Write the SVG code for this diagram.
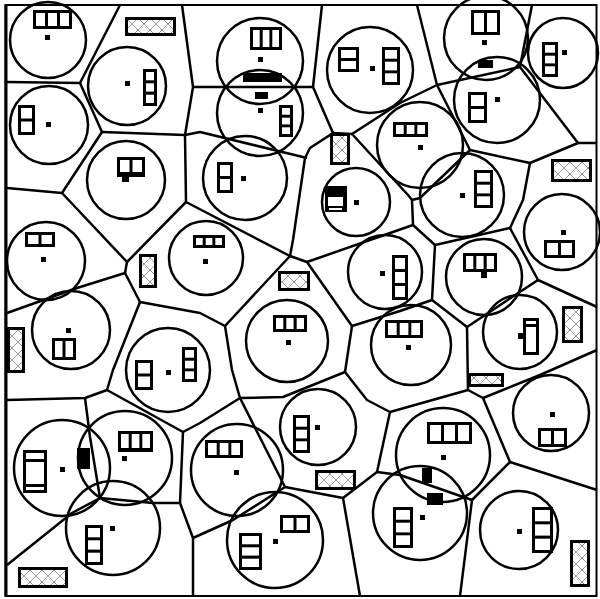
<svg xmlns="http://www.w3.org/2000/svg" width="600" height="599" viewBox="0 0 600 599">
<defs>
<pattern id="xx" width="12" height="12" patternUnits="userSpaceOnUse">
<rect width="12" height="12" fill="#fff"/>
<path d="M0 0L12 12M12 0L0 12" stroke="#999" stroke-width="1" fill="none"/>
</pattern>
<style>
.c{fill:none;stroke:#000;stroke-width:2.5}
.e{fill:none;stroke:#000;stroke-width:2.5;stroke-linejoin:round}
.b{fill:#000}
.w{fill:#fff}
.hi{fill:url(#xx)}
</style>
</defs>
<rect width="600" height="599" fill="#fff"/>
<g id="edges">
<polyline class="e" points="120,5 80,83"/>
<polyline class="e" points="7,82 80,83"/>
<polyline class="e" points="80,83 102,132"/>
<polyline class="e" points="182,5 193,87 185,135"/>
<polyline class="e" points="102,132 185,135"/>
<polyline class="e" points="185,135 200,132 307,158"/>
<polyline class="e" points="185,135 186,202"/>
<polyline class="e" points="102,132 62,193"/>
<polyline class="e" points="7,188 62,193"/>
<polyline class="e" points="62,193 127,262"/>
<polyline class="e" points="186,202 127,262"/>
<polyline class="e" points="127,262 125,273 77,288 7,313"/>
<polyline class="e" points="125,273 140,302"/>
<polyline class="e" points="140,302 200,313 225,326"/>
<polyline class="e" points="140,302 113,370 107,390"/>
<polyline class="e" points="7,400 85,398 107,390"/>
<polyline class="e" points="107,390 183,432"/>
<polyline class="e" points="85,398 90,437 100,498"/>
<polyline class="e" points="7,565 72,513 100,498 153,503 180,503"/>
<polyline class="e" points="180,503 183,432 200,423 240,398"/>
<polyline class="e" points="180,503 193,538 193,596"/>
<polyline class="e" points="193,538 233,520 285,487"/>
<polyline class="e" points="240,398 285,487"/>
<polyline class="e" points="225,326 232,370 240,398"/>
<polyline class="e" points="240,398 283,397 345,372"/>
<polyline class="e" points="186,202 290,256"/>
<polyline class="e" points="193,87 313,87"/>
<polyline class="e" points="322,5 313,87"/>
<polyline class="e" points="313,87 333,133"/>
<polyline class="e" points="305,158 310,148 333,133"/>
<polyline class="e" points="333,133 352,134"/>
<polyline class="e" points="305,158 293,240 290,256"/>
<polyline class="e" points="290,256 225,326"/>
<polyline class="e" points="290,256 307,262 352,326"/>
<polyline class="e" points="307,262 413,225"/>
<polyline class="e" points="352,134 400,103 437,85"/>
<polyline class="e" points="417,5 437,85"/>
<polyline class="e" points="437,85 520,67"/>
<polyline class="e" points="532,5 520,67"/>
<polyline class="e" points="520,67 578,143 597,143"/>
<polyline class="e" points="578,143 530,163"/>
<polyline class="e" points="437,85 470,150 530,163"/>
<polyline class="e" points="530,163 523,200 510,228"/>
<polyline class="e" points="352,134 408,195 412,200"/>
<polyline class="e" points="470,150 420,198 412,200"/>
<polyline class="e" points="412,200 413,225 435,245"/>
<polyline class="e" points="435,245 510,228"/>
<polyline class="e" points="510,228 538,280 597,307"/>
<polyline class="e" points="538,280 467,327"/>
<polyline class="e" points="435,245 432,300 467,327"/>
<polyline class="e" points="432,300 400,311 352,326"/>
<polyline class="e" points="352,326 345,372"/>
<polyline class="e" points="467,327 468,390"/>
<polyline class="e" points="345,372 367,400 390,412 468,390 483,398"/>
<polyline class="e" points="483,398 540,375 597,350"/>
<polyline class="e" points="483,398 510,462"/>
<polyline class="e" points="510,462 597,490"/>
<polyline class="e" points="510,462 472,500"/>
<polyline class="e" points="472,500 460,596"/>
<polyline class="e" points="472,500 400,475 377,472"/>
<polyline class="e" points="390,412 377,472"/>
<polyline class="e" points="377,472 343,498"/>
<polyline class="e" points="285,487 343,498"/>
<polyline class="e" points="343,498 360,596"/>
</g>
<g id="circles">
<circle class="c" cx="48" cy="40" r="38"/>
<circle class="c" cx="127" cy="86" r="39"/>
<circle class="c" cx="49" cy="125" r="39"/>
<circle class="c" cx="126" cy="180" r="39"/>
<circle class="c" cx="260" cy="61" r="43"/>
<circle class="c" cx="260" cy="113" r="43"/>
<circle class="c" cx="245" cy="178" r="42"/>
<circle class="c" cx="370" cy="70" r="43"/>
<circle class="c" cx="486" cy="38" r="42"/>
<circle class="c" cx="563" cy="53" r="35"/>
<circle class="c" cx="497" cy="100" r="43"/>
<circle class="c" cx="420" cy="145" r="43"/>
<circle class="c" cx="462" cy="195" r="42"/>
<circle class="c" cx="562" cy="232" r="38"/>
<circle class="c" cx="46" cy="261" r="39"/>
<circle class="c" cx="71" cy="330" r="39"/>
<circle class="c" cx="168" cy="370" r="42"/>
<circle class="c" cx="206" cy="258" r="37"/>
<circle class="c" cx="287" cy="341" r="41"/>
<circle class="c" cx="356" cy="202" r="34"/>
<circle class="c" cx="385" cy="272" r="37"/>
<circle class="c" cx="411" cy="345" r="40"/>
<circle class="c" cx="484" cy="277" r="38"/>
<circle class="c" cx="520" cy="332" r="37"/>
<circle class="c" cx="62" cy="468" r="48"/>
<circle class="c" cx="125" cy="458" r="47"/>
<circle class="c" cx="113" cy="528" r="47"/>
<circle class="c" cx="237" cy="470" r="46"/>
<circle class="c" cx="318" cy="427" r="38"/>
<circle class="c" cx="275" cy="540" r="48"/>
<circle class="c" cx="551" cy="413" r="38"/>
<circle class="c" cx="443" cy="455" r="47"/>
<circle class="c" cx="420" cy="513" r="47"/>
<circle class="c" cx="519" cy="530" r="39"/>
</g>
<g id="hatched">
<rect class="b" x="125" y="17" width="51" height="19"/><rect class="hi" x="128" y="20" width="45" height="13"/>
<rect class="b" x="330" y="133" width="20" height="32"/><rect class="hi" x="333" y="136" width="14" height="26"/>
<rect class="b" x="551" y="159" width="41" height="23"/><rect class="hi" x="554" y="162" width="35" height="17"/>
<rect class="b" x="7" y="327" width="18" height="46"/><rect class="hi" x="10" y="330" width="12" height="40"/>
<rect class="b" x="139" y="254" width="18" height="34"/><rect class="hi" x="142" y="257" width="12" height="28"/>
<rect class="b" x="278" y="271" width="32" height="20"/><rect class="hi" x="281" y="274" width="26" height="14"/>
<rect class="b" x="562" y="306" width="21" height="37"/><rect class="hi" x="565" y="309" width="15" height="31"/>
<rect class="b" x="468" y="373" width="36" height="14"/><rect class="hi" x="471" y="376" width="30" height="8"/>
<rect class="b" x="18" y="567" width="50" height="21"/><rect class="hi" x="21" y="570" width="44" height="15"/>
<rect class="b" x="315" y="470" width="41" height="20"/><rect class="hi" x="318" y="473" width="35" height="14"/>
<rect class="b" x="570" y="540" width="20" height="47"/><rect class="hi" x="573" y="543" width="14" height="41"/>
</g>
<g id="glyphs">
<g id="n1"><rect class="b" x="33" y="10" width="39" height="19"/><rect class="w" x="36" y="13" width="9" height="13"/><rect class="w" x="48" y="13" width="9" height="13"/><rect class="w" x="60" y="13" width="9" height="13"/><rect class="b" x="45" y="35" width="5" height="5"/></g>
<g id="n2"><rect class="b" x="143" y="69" width="14" height="37"/><rect class="w" x="146" y="72" width="8" height="8.3"/><rect class="w" x="146" y="83.3" width="8" height="8.3"/><rect class="w" x="146" y="94.7" width="8" height="8.3"/><rect class="b" x="125" y="81" width="5" height="5"/></g>
<g id="n3"><rect class="b" x="18" y="105" width="17" height="30"/><rect class="w" x="21" y="108" width="11" height="10.5"/><rect class="w" x="21" y="121.5" width="11" height="10.5"/><rect class="b" x="46" y="122" width="5" height="5"/></g>
<g id="n4"><rect class="b" x="117" y="157" width="28" height="20"/><rect class="w" x="120" y="160" width="9.5" height="12"/><rect class="w" x="132.5" y="160" width="9.5" height="12"/><rect class="b" x="122" y="176" width="7" height="6"/></g>
<g id="n5"><rect class="b" x="250" y="27" width="32" height="23"/><rect class="w" x="253" y="30" width="6.7" height="17"/><rect class="w" x="262.7" y="30" width="6.7" height="17"/><rect class="w" x="272.3" y="30" width="6.7" height="17"/><rect class="b" x="258" y="57" width="5" height="5"/><rect class="b" x="243" y="73" width="39" height="9"/></g>
<g id="n6"><rect class="b" x="255" y="92" width="13" height="7"/><rect class="b" x="258" y="108" width="5" height="5"/><rect class="b" x="279" y="105" width="14" height="32"/><rect class="w" x="282" y="108" width="8" height="6.7"/><rect class="w" x="282" y="117.7" width="8" height="6.7"/><rect class="w" x="282" y="127.3" width="8" height="6.7"/></g>
<g id="n7"><rect class="b" x="217" y="162" width="16" height="31"/><rect class="w" x="220" y="165" width="10" height="11"/><rect class="w" x="220" y="179" width="10" height="11"/><rect class="b" x="241" y="176" width="5" height="5"/></g>
<g id="n8"><rect class="b" x="338" y="47" width="21" height="25"/><rect class="w" x="341" y="50" width="15" height="8"/><rect class="w" x="341" y="61" width="15" height="8"/><rect class="b" x="370" y="66" width="5" height="5"/><rect class="b" x="382" y="47" width="18" height="38"/><rect class="w" x="385" y="50" width="12" height="8.7"/><rect class="w" x="385" y="61.7" width="12" height="8.7"/><rect class="w" x="385" y="73.3" width="12" height="8.7"/></g>
<g id="n10"><rect class="b" x="471" y="10" width="29" height="25"/><rect class="w" x="474" y="13" width="10" height="19"/><rect class="w" x="487" y="13" width="10" height="19"/><rect class="b" x="482" y="40" width="5" height="5"/></g>
<g id="n11"><rect class="b" x="542" y="42" width="16" height="35"/><rect class="w" x="545" y="45" width="10" height="7.7"/><rect class="w" x="545" y="55.7" width="10" height="7.7"/><rect class="w" x="545" y="66.3" width="10" height="7.7"/><rect class="b" x="562" y="50" width="5" height="5"/></g>
<g id="n12"><rect class="b" x="478" y="60" width="15" height="8"/><rect class="b" x="468" y="92" width="19" height="31"/><rect class="w" x="471" y="95" width="13" height="11"/><rect class="w" x="471" y="109" width="13" height="11"/><rect class="b" x="495" y="97" width="5" height="5"/></g>
<g id="n13"><rect class="b" x="393" y="122" width="35" height="15"/><rect class="w" x="396" y="125" width="7.7" height="9"/><rect class="w" x="406.7" y="125" width="7.7" height="9"/><rect class="w" x="417.3" y="125" width="7.7" height="9"/><rect class="b" x="418" y="145" width="5" height="5"/></g>
<g id="n15"><rect class="b" x="474" y="170" width="19" height="38"/><rect class="w" x="477" y="173" width="13" height="8.7"/><rect class="w" x="477" y="184.7" width="13" height="8.7"/><rect class="w" x="477" y="196.3" width="13" height="8.7"/><rect class="b" x="460" y="193" width="5" height="5"/></g>
<g id="n17"><rect class="b" x="544" y="240" width="31" height="18"/><rect class="w" x="547" y="243" width="11" height="12"/><rect class="w" x="561" y="243" width="11" height="12"/><rect class="b" x="561" y="230" width="5" height="5"/></g>
<g id="n18"><rect class="b" x="25" y="232" width="30" height="15"/><rect class="w" x="28" y="235" width="10.5" height="9"/><rect class="w" x="41.5" y="235" width="10.5" height="9"/><rect class="b" x="41" y="257" width="5" height="5"/></g>
<g id="n19"><rect class="b" x="52" y="338" width="24" height="22"/><rect class="w" x="55" y="341" width="7.5" height="16"/><rect class="w" x="65.5" y="341" width="7.5" height="16"/><rect class="b" x="66" y="328" width="5" height="5"/></g>
<g id="n22"><rect class="b" x="135" y="360" width="18" height="30"/><rect class="w" x="138" y="363" width="12" height="10.5"/><rect class="w" x="138" y="376.5" width="12" height="10.5"/><rect class="b" x="166" y="370" width="5" height="5"/><rect class="b" x="182" y="347" width="15" height="35"/><rect class="w" x="185" y="350" width="9" height="7.7"/><rect class="w" x="185" y="360.7" width="9" height="7.7"/><rect class="w" x="185" y="371.3" width="9" height="7.7"/></g>
<g id="n24"><rect class="b" x="193" y="235" width="32" height="13"/><rect class="w" x="196" y="238" width="6.7" height="7"/><rect class="w" x="205.7" y="238" width="6.7" height="7"/><rect class="w" x="215.3" y="238" width="6.7" height="7"/><rect class="b" x="203" y="259" width="5" height="5"/></g>
<g id="n26"><rect class="b" x="273" y="315" width="34" height="17"/><rect class="w" x="276" y="318" width="7.3" height="11"/><rect class="w" x="286.3" y="318" width="7.3" height="11"/><rect class="w" x="296.7" y="318" width="7.3" height="11"/><rect class="b" x="286" y="340" width="5" height="5"/></g>
<g id="n27"><rect class="b" x="325" y="186" width="22" height="26"/><rect class="w" x="328" y="197" width="15" height="9"/><rect class="w" x="329" y="208" width="13" height="2"/><rect class="b" x="354" y="200" width="5" height="5"/></g>
<g id="n28"><rect class="b" x="392" y="255" width="16" height="45"/><rect class="w" x="395" y="258" width="10" height="11"/><rect class="w" x="395" y="272" width="10" height="11"/><rect class="w" x="395" y="286" width="10" height="11"/><rect class="b" x="380" y="271" width="5" height="5"/></g>
<g id="n29"><rect class="b" x="385" y="320" width="38" height="18"/><rect class="w" x="388" y="323" width="8.7" height="12"/><rect class="w" x="399.7" y="323" width="8.7" height="12"/><rect class="w" x="411.3" y="323" width="8.7" height="12"/><rect class="b" x="406" y="345" width="5" height="5"/></g>
<g id="n31"><rect class="b" x="463" y="253" width="34" height="19"/><rect class="w" x="466" y="256" width="7.3" height="13"/><rect class="w" x="476.3" y="256" width="7.3" height="13"/><rect class="w" x="486.7" y="256" width="7.3" height="13"/><rect class="b" x="481" y="271" width="6" height="7"/></g>
<g id="n32"><rect class="b" x="523" y="318" width="16" height="37"/><rect class="w" x="526" y="321" width="10" height="3"/><rect class="w" x="526" y="327" width="10" height="25"/><rect class="b" x="518" y="333" width="6" height="6"/></g>
<g id="n36"><rect class="b" x="23" y="450" width="24" height="43"/><rect class="w" x="26" y="453" width="18" height="6"/><rect class="w" x="26" y="462" width="18" height="22"/><rect class="w" x="26" y="487" width="18" height="3"/><rect class="b" x="60" y="467" width="5" height="5"/><rect class="b" x="77" y="448" width="13" height="21"/></g>
<g id="n37"><rect class="b" x="118" y="431" width="35" height="21"/><rect class="w" x="121" y="434" width="7.7" height="14"/><rect class="w" x="131.7" y="434" width="7.7" height="14"/><rect class="w" x="142.3" y="434" width="7.7" height="14"/><rect class="b" x="122" y="456" width="5" height="5"/></g>
<g id="n38"><rect class="b" x="85" y="525" width="18" height="40"/><rect class="w" x="88" y="528" width="12" height="9.3"/><rect class="w" x="88" y="540.3" width="12" height="9.3"/><rect class="w" x="88" y="552.7" width="12" height="9.3"/><rect class="b" x="110" y="526" width="5" height="5"/></g>
<g id="n40"><rect class="b" x="205" y="440" width="38" height="18"/><rect class="w" x="208" y="443" width="8.7" height="12"/><rect class="w" x="219.7" y="443" width="8.7" height="12"/><rect class="w" x="231.3" y="443" width="8.7" height="12"/><rect class="b" x="234" y="470" width="5" height="5"/></g>
<g id="n41"><rect class="b" x="293" y="415" width="17" height="38"/><rect class="w" x="296" y="418" width="11" height="8.7"/><rect class="w" x="296" y="429.7" width="11" height="8.7"/><rect class="w" x="296" y="441.3" width="11" height="8.7"/><rect class="b" x="315" y="425" width="5" height="5"/></g>
<g id="n43"><rect class="b" x="280" y="515" width="30" height="18"/><rect class="w" x="283" y="518" width="10.5" height="12"/><rect class="w" x="296.5" y="518" width="10.5" height="12"/><rect class="b" x="273" y="539" width="5" height="5"/><rect class="b" x="239" y="533" width="23" height="37"/><rect class="w" x="242" y="536" width="17" height="8.3"/><rect class="w" x="242" y="547.3" width="17" height="8.3"/><rect class="w" x="242" y="558.7" width="17" height="8.3"/></g>
<g id="n45"><rect class="b" x="538" y="428" width="29" height="19"/><rect class="w" x="541" y="431" width="10" height="13"/><rect class="w" x="554" y="431" width="10" height="13"/><rect class="b" x="550" y="412" width="5" height="5"/></g>
<g id="n46"><rect class="b" x="427" y="422" width="45" height="22"/><rect class="w" x="430" y="425" width="11" height="16"/><rect class="w" x="444" y="425" width="11" height="16"/><rect class="w" x="458" y="425" width="11" height="16"/><rect class="b" x="441" y="455" width="5" height="5"/></g>
<g id="n47"><rect class="b" x="393" y="507" width="20" height="41"/><rect class="w" x="396" y="510" width="14" height="9.7"/><rect class="w" x="396" y="522.7" width="14" height="9.7"/><rect class="w" x="396" y="535.3" width="14" height="9.7"/><rect class="b" x="420" y="515" width="5" height="5"/><rect class="b" x="422" y="468" width="10" height="15"/><rect class="b" x="427" y="493" width="16" height="12"/></g>
<g id="n48"><rect class="b" x="532" y="507" width="21" height="46"/><rect class="w" x="535" y="510" width="15" height="11.3"/><rect class="w" x="535" y="524.3" width="15" height="11.3"/><rect class="w" x="535" y="538.7" width="15" height="11.3"/><rect class="b" x="517" y="529" width="5" height="5"/></g>
</g>
<rect x="5.5" y="5" width="591" height="591" fill="none" stroke="#000" stroke-width="2"/>
<line x1="6" y1="5" x2="6" y2="596" stroke="#000" stroke-width="3"/>
</svg>
